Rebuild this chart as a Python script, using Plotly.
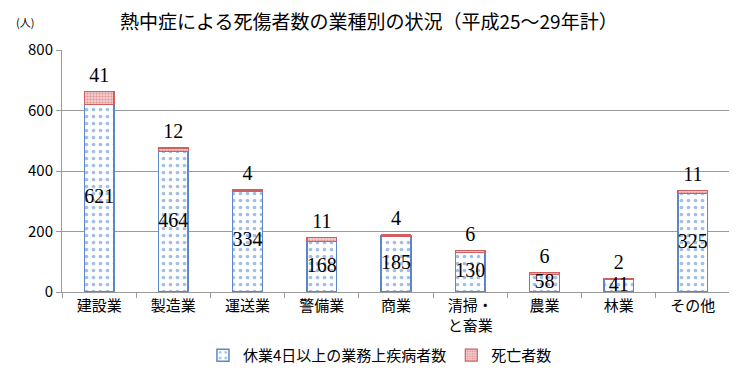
import plotly.graph_objects as go

categories = ["建設業", "製造業", "運送業", "警備業", "商業", "清掃・<br>と畜業", "農業", "林業", "その他"]
injured = [621, 464, 334, 168, 185, 130, 58, 41, 325]
deaths = [41, 12, 4, 11, 4, 6, 6, 2, 11]
y_ticks = [0, 200, 400, 600, 800]

totals = [a + b for a, b in zip(injured, deaths)]
mid = [v / 2 for v in injured]

sans = "Noto Sans CJK JP"
serif = "Liberation Serif"

fig = go.Figure()
fig.add_trace(go.Bar(
    x=categories, y=injured, name="休業4日以上の業務上疾病者数",
    marker=dict(color="white", line=dict(color="#5B87C8", width=1.5),
                pattern=dict(shape=".", fgcolor="#4A7FCC", bgcolor="white", size=7, solidity=0.22)),
))
fig.add_trace(go.Bar(
    x=categories, y=deaths, name="死亡者数",
    marker=dict(color="#F2B8B8", line=dict(color="#D06060", width=1.2),
                pattern=dict(shape=".", fgcolor="#C85050", bgcolor="#F7D0D0", size=3, solidity=0.4)),
))
fig.add_trace(go.Scatter(
    x=categories, y=mid, mode="text", text=[str(v) for v in injured],
    textfont=dict(family=serif, size=20, color="black"), showlegend=False, hoverinfo="skip",
))
fig.add_trace(go.Scatter(
    x=categories, y=totals, mode="markers+text", text=[str(v) for v in deaths],
    textposition="top center", marker=dict(size=6, color="rgba(0,0,0,0)"),
    textfont=dict(family=serif, size=20, color="black"), showlegend=False, hoverinfo="skip",
))

fig.update_layout(
    barmode="stack", bargap=0.6,
    width=729, height=371,
    margin=dict(l=54, r=7, t=42, b=85),
    paper_bgcolor="white", plot_bgcolor="white",
    font=dict(family=sans, size=15, color="black"),
    title=dict(text="熱中症による死傷者数の業種別の状況（平成25～29年計）", x=0.495, xanchor="center",
               y=0.962, yanchor="middle", font=dict(family=sans, size=19, color="black")),
    legend=dict(orientation="h", x=0.476, xanchor="center", y=-0.262, yanchor="middle",
                font=dict(family=sans, size=15), itemwidth=30, traceorder="normal"),
    annotations=[dict(text="(人)", xref="paper", yref="paper", x=-0.055, y=1.115,
                      xanchor="center", yanchor="middle", showarrow=False,
                      font=dict(family=sans, size=11))],
)

fig.update_yaxes(range=[0, 800], tickvals=y_ticks, showgrid=True, gridcolor="#9A9A9A", gridwidth=1,
                 showline=True, linecolor="#9A9A9A", ticks="outside", tickcolor="#9A9A9A", ticklen=5,
                 tickfont=dict(family=sans, size=15), zeroline=False, fixedrange=True, automargin=False)
fig.update_xaxes(showline=True, linecolor="#9A9A9A", ticks="outside", tickcolor="#9A9A9A", ticklen=5,
                 tickson="boundaries", tickfont=dict(family=sans, size=15), fixedrange=True, automargin=False)

fig.write_html("out.html")
